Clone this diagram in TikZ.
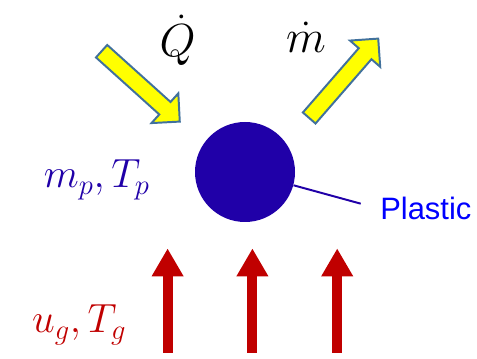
\RequirePackage{fix-cm}
\documentclass[tikz,border=0pt]{standalone}
\usepackage{fontspec}
\newfontfamily\labelfont{Liberation Sans}
\usetikzlibrary{arrows.meta}
\definecolor{partblue}{RGB}{32,0,168}
\definecolor{gasred}{RGB}{192,0,0}
\definecolor{arrowedge}{RGB}{65,113,156}
\definecolor{heatyellow}{RGB}{255,255,0}

\begin{document}
\begin{tikzpicture}[line join=miter,
  fatarrow/.style={fill=heatyellow,draw=arrowedge,line width=1.4pt},
  gasflow/.style={draw=gasred,line width=0.25cm,-{Triangle[length=0.7cm,width=0.75cm]}},
  biglabel/.style={inner sep=0pt,font=\fontsize{33}{40}\selectfont},
  sidelabel/.style={inner sep=0pt,font=\fontsize{29}{34}\selectfont}]
  \useasboundingbox (0,0) rectangle (11.925,8.95);
  % heat in, mass out
  \foreach \x/\y/\a in {2.54/7.67/-42,7.73/6.0/49}
    \draw[fatarrow,shift={(\x,\y)},rotate=\a] (0,-0.21) -- (2.13,-0.21) -- (2.13,-0.5)
      -- (2.63,0) -- (2.13,0.5) -- (2.13,0.21) -- (0,0.21) -- cycle;
  \node[biglabel,anchor=base] (heat) at (4.44,7.53) {$\dot{Q}$};
  \node[biglabel,anchor=base] (mass) at (7.65,7.63) {$\dot{m}$};
  % particle
  \node[circle,fill=partblue,minimum size=2.5cm,inner sep=0pt] (part) at (6.125,4.65) {};
  \node[anchor=base west,inner sep=0pt,text=blue,font=\labelfont\fontsize{22}{26}\selectfont] (plastic) at (9.5,3.45) {Plastic};
  \draw[partblue,line width=1.4pt,shorten >=0.5cm] (part) -- (plastic.west);
  \node[sidelabel,anchor=base,text=partblue] (state) at (2.42,4.25) {$m_p,T_p$};
  % gas flow
  \foreach \x in {4.19,6.31,8.43}
    \draw[gasflow] (\x,0.13) -- (\x,2.74);
  \node[sidelabel,anchor=base,text=gasred] (gas) at (1.98,0.625) {$u_g,T_g$};
\end{tikzpicture}
\end{document}
